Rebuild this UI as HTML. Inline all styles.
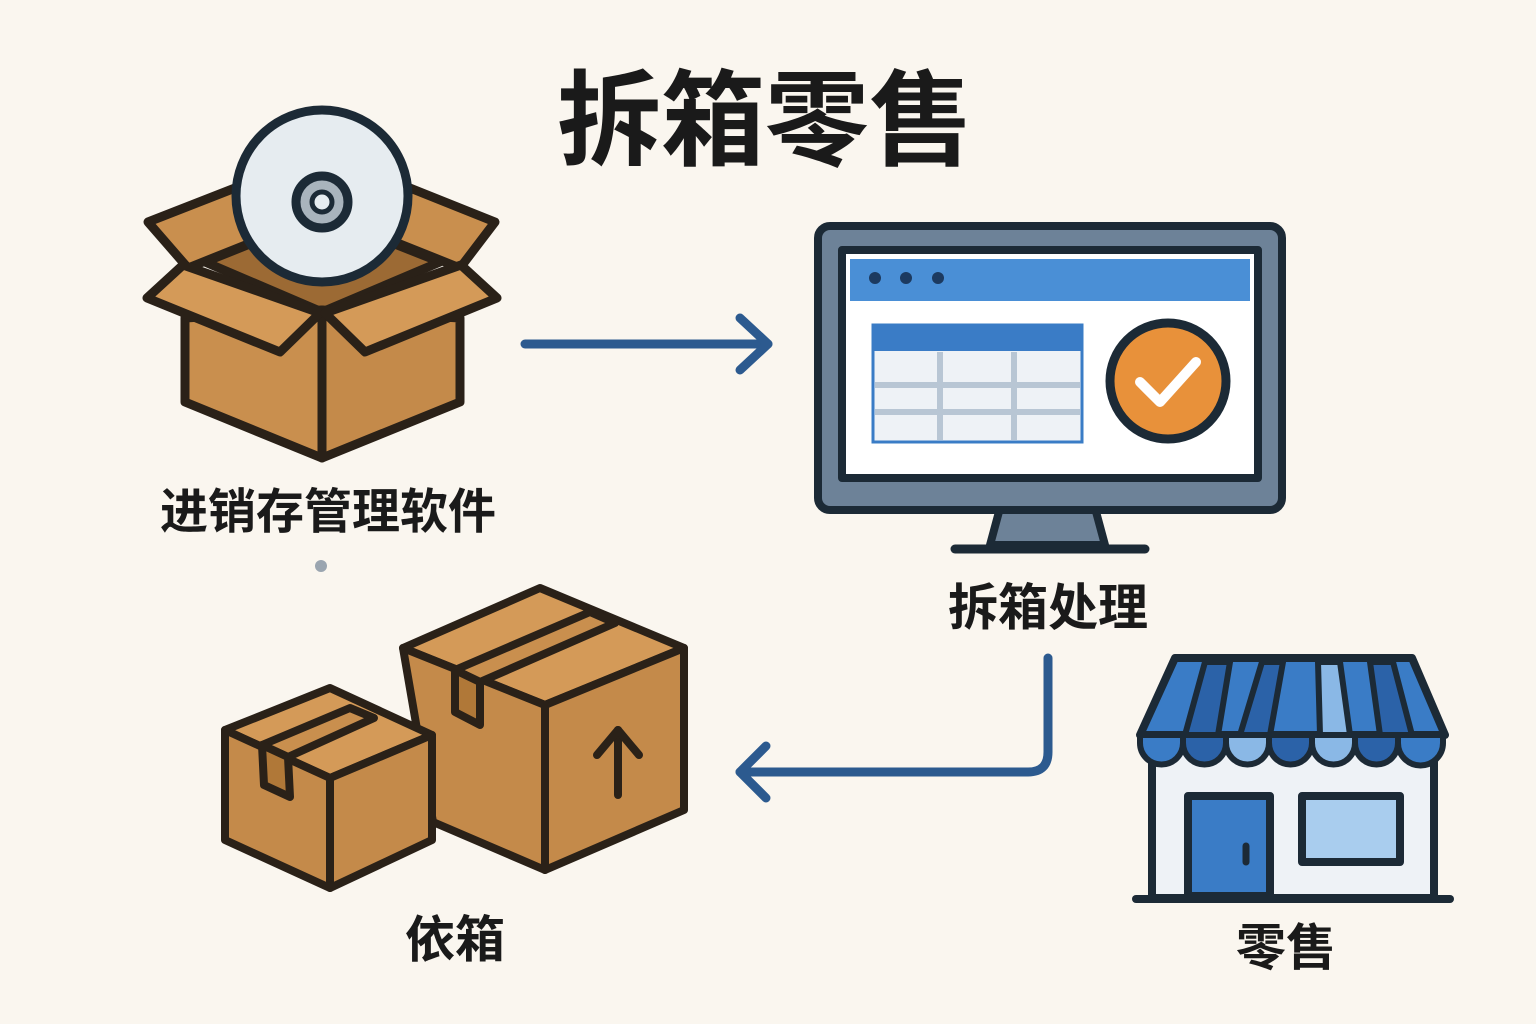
<!DOCTYPE html>
<html><head><meta charset="utf-8"><style>
html,body{margin:0;padding:0;background:#faf6ef;}
svg{display:block}
text{font-family:"Liberation Sans","Noto Sans CJK SC",sans-serif;fill:#1a1a1a}
</style></head><body>
<svg width="1536" height="1024" viewBox="0 0 1536 1024" xmlns="http://www.w3.org/2000/svg">
<rect width="1536" height="1024" fill="#faf6ef"/>
<text x="765" y="157" font-size="104" font-weight="bold" text-anchor="middle">拆箱零售</text>

<!-- open box -->
<g stroke="#2a2118" stroke-width="9" stroke-linejoin="round">
<polygon points="205,262 322,215 440,262 322,312" fill="#9c6a34"/>
<polygon points="148,222 235,188 258,240 188,268" fill="#c98f4e"/>
<polygon points="495,222 410,188 390,240 460,268" fill="#c98f4e"/>
</g>
<g stroke="#1c2a36" stroke-width="9">
<circle cx="322" cy="196" r="86" fill="#e6ecf0"/>
<circle cx="322" cy="202" r="26" fill="#a9b4bd"/>
<circle cx="322" cy="202" r="10" fill="#e6ecf0" stroke-width="5"/>
</g>
<g stroke="#2a2118" stroke-width="9" stroke-linejoin="round">
<polygon points="185,318 322,310 322,458 185,402" fill="#c98f4e"/>
<polygon points="460,318 322,310 322,458 460,402" fill="#c48a4a"/>
<polygon points="147,298 183,265 320,313 280,352" fill="#d49a58"/>
<polygon points="497,298 461,265 325,313 365,352" fill="#d49a58"/>
</g>
<text x="328" y="528" font-size="48" font-weight="bold" text-anchor="middle">进销存管理软件</text>
<circle cx="321" cy="566" r="6" fill="#9aa5b0"/>

<!-- arrows -->
<g stroke="#2c5a8f" stroke-width="9" fill="none" stroke-linecap="round" stroke-linejoin="round">
<line x1="525" y1="344" x2="768" y2="344"/>
<polyline points="740,318 768,344 740,370"/>
<path d="M1048,658 L1048,752 Q1048,772 1028,772 L740,772"/>
<polyline points="766,746 740,772 766,798"/>
</g>

<!-- monitor -->
<g stroke="#1c2a36" stroke-width="8" stroke-linejoin="round">
<polygon points="1000,508 1095,508 1105,545 990,545" fill="#6d8298"/>
<rect x="818" y="226" width="464" height="284" rx="12" fill="#6d8298"/>
<rect x="842" y="250" width="416" height="228" fill="#ffffff"/>
</g>
<line x1="955" y1="549" x2="1145" y2="549" stroke="#1c2a36" stroke-width="9" stroke-linecap="round"/>
<rect x="850" y="259" width="400" height="42" fill="#4a8fd6"/>
<circle cx="875" cy="278" r="6" fill="#1c3a60"/><circle cx="906" cy="278" r="6" fill="#1c3a60"/><circle cx="938" cy="278" r="6" fill="#1c3a60"/>
<rect x="873" y="325" width="209" height="117" fill="#eef2f6" stroke="#3a7cc6" stroke-width="3"/>
<rect x="873" y="325" width="209" height="26" fill="#3a7cc6"/>
<g stroke="#b8c6d4" stroke-width="6">
<line x1="875" y1="385" x2="1080" y2="385"/><line x1="875" y1="412" x2="1080" y2="412"/>
<line x1="940" y1="352" x2="940" y2="440"/><line x1="1014" y1="352" x2="1014" y2="440"/>
</g>
<circle cx="1168" cy="381" r="58" fill="#e8913a" stroke="#1c2a36" stroke-width="9"/>
<polyline points="1140,382 1160,402 1196,362" fill="none" stroke="#fff" stroke-width="10" stroke-linecap="round" stroke-linejoin="round"/>
<text x="1048" y="625" font-size="50" font-weight="bold" text-anchor="middle">拆箱处理</text>

<!-- boxes -->
<g stroke="#2a2118" stroke-width="8" stroke-linejoin="round">
<polygon points="403,648 540,588 684,648 545,705" fill="#d49a58"/>
<polygon points="403,648 545,705 545,870 433,822" fill="#c48a4a"/>
<polygon points="545,705 684,648 684,810 545,870" fill="#c48a4a"/>
<polygon points="455,670 590,612 615,623 480,682" fill="#c98f4e"/>
<polygon points="455,670 480,682 480,725 455,712" fill="#b07838"/>
<polygon points="225,730 330,688 432,735 330,778" fill="#d49a58"/>
<polygon points="225,730 330,778 330,888 225,840" fill="#c48a4a"/>
<polygon points="330,778 432,735 432,840 330,888" fill="#c48a4a"/>
<polygon points="262,745 350,708 374,718 288,757" fill="#c98f4e"/>
<polygon points="262,745 288,757 290,797 264,785" fill="#b07838"/>
</g>
<g stroke="#2a2118" stroke-width="8" fill="none" stroke-linecap="round" stroke-linejoin="round">
<line x1="618" y1="730" x2="618" y2="795"/><polyline points="597,755 618,730 639,755"/>
</g>
<text x="455" y="957" font-size="50" font-weight="bold" text-anchor="middle">依箱</text>

<!-- store -->
<g stroke="#1c2a36" stroke-width="8" stroke-linejoin="round">
<rect x="1152" y="740" width="282" height="158" fill="#eef2f6"/>
<rect x="1188" y="796" width="82" height="100" fill="#3a7cc6"/>
<rect x="1302" y="796" width="98" height="66" fill="#a9cdee"/>
<polygon points="1175,658 1412,658 1445,735 1140,735" fill="#3a7cc6"/>
</g>
<g stroke="#1c2a36" stroke-width="6" fill="#2b62a8">
<polygon points="1205,662 1230,662 1218,735 1185,735"/>
<polygon points="1262,662 1283,662 1270,735 1240,735"/>
<polygon points="1318,662 1340,662 1350,735 1320,735" fill="#8ab8e6"/>
<polygon points="1370,662 1393,662 1412,735 1380,735"/>
</g>
<g stroke="#1c2a36" stroke-width="6" fill="#3a7cc6">
<path d="M1140,735 h43 v8 a21.5,21.5 0 0 1 -43,0 z"/>
<path d="M1183,735 h43 v8 a21.5,21.5 0 0 1 -43,0 z" fill="#2b62a8"/>
<path d="M1226,735 h43 v8 a21.5,21.5 0 0 1 -43,0 z" fill="#8ab8e6"/>
<path d="M1269,735 h43 v8 a21.5,21.5 0 0 1 -43,0 z" fill="#2b62a8"/>
<path d="M1312,735 h43 v8 a21.5,21.5 0 0 1 -43,0 z" fill="#8ab8e6"/>
<path d="M1355,735 h43 v8 a21.5,21.5 0 0 1 -43,0 z" fill="#2b62a8"/>
<path d="M1398,735 h45 v8 a22.5,22.5 0 0 1 -45,0 z"/>
</g>
<line x1="1246" y1="846" x2="1246" y2="862" stroke="#1c2a36" stroke-width="7" stroke-linecap="round"/>
<line x1="1136" y1="899" x2="1450" y2="899" stroke="#1c2a36" stroke-width="8" stroke-linecap="round"/>
<text x="1286" y="965" font-size="50" font-weight="bold" text-anchor="middle">零售</text>
</svg>
</body></html>
